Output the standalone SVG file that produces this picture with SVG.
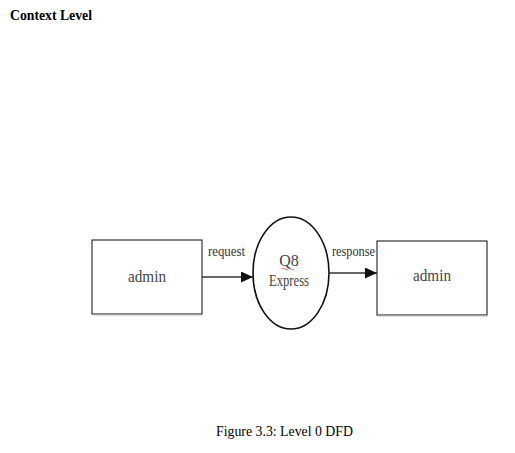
<svg xmlns="http://www.w3.org/2000/svg" width="515" height="453" viewBox="0 0 515 453">
<defs>
<style>
.t{font-family:"Liberation Serif","Times New Roman",serif;fill:#000}
.box{fill:#fff;stroke:#333;stroke-width:1.2}
.lbl{font-family:"Liberation Serif","Times New Roman",serif;font-size:14px;fill:#333}
.node{font-family:"Liberation Serif","Times New Roman",serif;font-size:16px;fill:#444}
.ln{stroke:#333;stroke-width:1.3;fill:none}
</style>
<marker id="ah" viewBox="0 0 10 10" refX="10" refY="5" markerWidth="12" markerHeight="11" markerUnits="userSpaceOnUse" orient="auto" preserveAspectRatio="none">
<path d="M0,0 L10,5 L0,10 z" fill="#111"/>
</marker>
</defs>
<rect width="515" height="453" fill="#fff"/>
<text class="t" x="10" y="20" font-size="14" font-weight="bold" textLength="82" lengthAdjust="spacingAndGlyphs">Context Level</text>
<g id="admin-left">
<rect class="box" x="92" y="240" width="110" height="74"/>
<line x1="93" y1="315" x2="203" y2="315" stroke="#bbb" stroke-width="1"/>
<text class="node" x="147" y="282" text-anchor="middle" textLength="38" lengthAdjust="spacingAndGlyphs">admin</text>
</g>
<g id="q8-express">
<ellipse cx="291" cy="273" rx="38" ry="56" fill="#fff" stroke="#111" stroke-width="1.6"/>
<text class="node" x="289" y="266" text-anchor="middle" font-size="15">Q8</text>
<path d="M282,269 q1.5,-1.5 3,0 t3,0 t3,0 t3,0" stroke="#d44" stroke-width="0.8" fill="none"/>
<text class="node" x="289" y="286" text-anchor="middle" font-size="15" textLength="40" lengthAdjust="spacingAndGlyphs">Express</text>
</g>
<g id="admin-right">
<rect class="box" x="377" y="241" width="110" height="74"/>
<line x1="378" y1="316" x2="488" y2="316" stroke="#bbb" stroke-width="1"/>
<text class="node" x="432" y="281" text-anchor="middle" textLength="38" lengthAdjust="spacingAndGlyphs">admin</text>
</g>
<g id="connectors">
<line class="ln" x1="202" y1="277" x2="253" y2="277" marker-end="url(#ah)"/>
<text class="lbl" x="208" y="256" textLength="37" lengthAdjust="spacingAndGlyphs">request</text>
<line class="ln" x1="329" y1="273" x2="377" y2="273" marker-end="url(#ah)"/>
<text class="lbl" x="332" y="256" textLength="43" lengthAdjust="spacingAndGlyphs">response</text>
</g>
<text class="t" x="216" y="436" font-size="14" textLength="137" lengthAdjust="spacingAndGlyphs">Figure 3.3: Level 0 DFD</text>
</svg>
